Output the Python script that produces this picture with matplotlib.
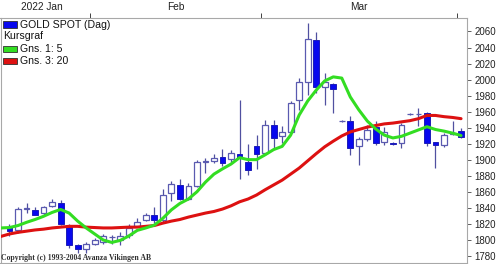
#!/usr/bin/env python3
"""
GOLD SPOT (Dag) - candlestick + glidande medel (5 / 20), jan-mar 2022.
Output: out.png (500x264)
"""
import numpy as np
import matplotlib
matplotlib.use("Agg")
import matplotlib.pyplot as plt
from matplotlib.patches import Rectangle

# dagsdata (index 0 = första stapeln)
opens = [1817, 1813, 1839, 1838, 1834, 1843, 1847, 1819, 1794, 1789,
         1796, 1798.5, 1804, 1800, 1806.5, 1818, 1826, 1832, 1825, 1858.5,
         1869, 1852, 1868, 1897, 1899, 1904, 1901, 1907.5, 1897.5, 1918,
         1909, 1943, 1929.5, 1935, 1975, 1997, 2050, 1991, 1995, 1948,
         1949, 1917.5, 1926, 1941.5, 1922, 1921, 1921.5, 1957, 1957, 1959,
         1922, 1919, 1932, 1936.5]
highs = [1820, 1842, 1846, 1841, 1843, 1852, 1850, 1820.5, 1796, 1798.5,
         1802.5, 1808, 1807, 1810, 1821, 1827.5, 1834.5, 1841, 1863.5, 1874,
         1877, 1871, 1900, 1902, 1907.5, 1913.5, 1912.5, 1975, 1920, 1931,
         1950, 1950, 1942, 1973, 2002, 2070.5, 2059.5, 2008.5, 1996, 1950,
         1954.5, 1929, 1943.5, 1948, 1941.5, 1922, 1946, 1958, 1964.5, 1960,
         1922, 1934, 1949, 1939.5]
lows = [1805, 1809, 1834, 1831, 1832, 1842, 1819, 1790, 1784, 1784,
        1794, 1796, 1796, 1794, 1803, 1817, 1824.5, 1822, 1823, 1849,
        1850, 1850, 1866, 1884, 1896, 1892.5, 1898, 1877, 1882, 1889,
        1906.5, 1914, 1921.5, 1934, 1962.5, 1981.5, 1983.5, 1969, 1958.5, 1947,
        1906, 1894, 1924, 1919, 1919, 1919, 1914.5, 1956, 1942.5, 1917.5,
        1890, 1916, 1931, 1927]
closes = [1812, 1839, 1840, 1832, 1841, 1848, 1820, 1794, 1789, 1795,
          1800, 1805.5, 1804.5, 1806, 1816, 1823, 1832, 1825, 1856.5, 1870,
          1851, 1868, 1897, 1899, 1903, 1896, 1909, 1902, 1888, 1907,
          1944, 1927.5, 1935, 1971, 1997, 2051, 1990.5, 1997, 1988, 1949,
          1915, 1926, 1938, 1921, 1935, 1920, 1943.5, 1957.5, 1957.5, 1921.5,
          1919, 1931, 1934, 1929]

# glidande medel, första värdet hör till dagen före första stapeln (index -1)
ma5 = [1815.5, 1816, 1818.5, 1822.5, 1826, 1830, 1834.8, 1838.5, 1834, 1824, 1815.5,
       1808, 1800.5, 1797.5, 1800, 1805.5, 1812.5, 1815.5, 1819, 1827.5, 1838,
       1846, 1851.5, 1860.5, 1872.5, 1882.5, 1889, 1895, 1903, 1900.5, 1900.5,
       1906.5, 1913, 1917, 1931, 1956, 1973.5, 1987, 1998.5, 2003.5, 2002,
       1978.5, 1962.5, 1948.5, 1938.5, 1931, 1927.5, 1929.5, 1933.5, 1937.5, 1941.5,
       1938, 1936, 1933.5, 1930.5]
ma20 = [1805, 1808, 1810, 1811.5, 1813, 1814, 1815.5, 1816.5, 1817.5, 1817.5, 1816.5,
        1816, 1815.5, 1815.5, 1816, 1816.5, 1816.5, 1817.5, 1818.5, 1821.5, 1824,
        1826, 1829, 1831.5, 1834, 1836, 1839, 1843, 1848, 1851.5, 1856.5,
        1863, 1869, 1875, 1882.5, 1890, 1899, 1908, 1916.5, 1923.5, 1930,
        1935, 1938, 1941, 1943, 1945, 1946, 1947.5, 1949, 1951.5, 1955.5,
        1955.5, 1954, 1953, 1951.5]

# månadsgränser (mellan två handelsdagar) och etiketter
month_edges = [-2, 9.5, 29.5, 52.5]
month_labels = ["2022 Jan", "Feb", "Mar"]
y_ticks = list(range(1780, 2061, 20))

FONT = ["Liberation Sans", "DejaVu Sans"]
WICK = "#5050a0"
HOLLOW_EDGE = "#5a5ab0"
FILL = "#0808ee"
FILL_EDGE = "#1c1cb8"
GREEN = "#33dd22"
RED = "#dd1111"
SPINE = "#a8a8a8"


def main():
    o = np.array(opens)
    h = np.array(highs)
    l = np.array(lows)
    c = np.array(closes)
    x = np.arange(len(c))
    x_ma = np.arange(-1, len(c))

    W, H = 500, 264
    fig = plt.figure(figsize=(W / 100, H / 100), dpi=100)
    # ritytan i pixlar: x 0..466, y 18.3..263.3
    ax = fig.add_axes([0.001, 1 - 263.3 / H, 466 / W, 245 / H])

    up = c >= o
    down = ~up
    # vekar
    ax.vlines(x, l, h, color=WICK, lw=0.9, zorder=2)
    # kroppar
    bw = 0.68
    ax.bar(x[up], (c - o)[up], bottom=o[up], width=bw, color="white",
           edgecolor=HOLLOW_EDGE, lw=0.9, zorder=3)
    ax.bar(x[down], (o - c)[down], bottom=c[down], width=bw, color=FILL,
           edgecolor=FILL_EDGE, lw=0.7, zorder=3)

    ax.plot(x_ma, ma20, color=RED, lw=2.2, zorder=4, solid_capstyle="round")
    ax.plot(x_ma, ma5, color=GREEN, lw=2.2, zorder=5, solid_capstyle="round")

    ax.set_xlim(-1.056, 53.64)
    ax.set_ylim(1771.5, 2076.4)

    # y-axel till höger
    ax.yaxis.tick_right()
    ax.set_yticks(y_ticks)
    ax.tick_params(axis="y", length=3, width=0.7, color="#606060", pad=2.5,
                   labelsize=7, labelcolor="#222222")
    for t in ax.get_yticklabels():
        t.set_family(FONT)

    # x-axel överst: ticks vid månadsgräns, etikett mitt i månaden
    ax.xaxis.tick_top()
    ax.set_xticks(month_edges[1:])
    ax.set_xticklabels([])
    mids = [(a + b) / 2 for a, b in zip(month_edges[:-1], month_edges[1:])]
    ax.set_xticks(mids, minor=True)
    ax.set_xticklabels(month_labels, minor=True)
    ax.tick_params(axis="x", which="major", length=3.5, width=0.7, color="#404040")
    ax.tick_params(axis="x", which="minor", length=0, pad=4.2, labelsize=7.3,
                   labelcolor="#222222")
    for t in ax.get_xticklabels(minor=True):
        t.set_family(FONT)

    for s in ax.spines.values():
        s.set_color(SPINE)
        s.set_linewidth(0.8)

    # legend, handritad i övre vänstra hörnet
    def px_to_ax(px, py):
        return px / 466, (263.3 - py) / 245

    legend_rows = [
        (24.5, FILL, "GOLD SPOT (Dag)"),
        (36.0, None, "Kursgraf"),
        (48.8, GREEN, "Gns. 1: 5"),
        (60.8, RED, "Gns. 3: 20"),
    ]
    for py, col, txt in legend_rows:
        if col is None:
            tx, ty = px_to_ax(2.5, py)
        else:
            rx, ry = px_to_ax(2.7, py + 3.3)
            ax.add_patch(Rectangle((rx, ry), 14 / 466, 6.6 / 245, transform=ax.transAxes,
                                   facecolor=col, edgecolor="#303030", lw=0.6, zorder=6))
            tx, ty = px_to_ax(19, py)
        ax.text(tx, ty, txt, transform=ax.transAxes, fontsize=7.6, family=FONT,
                va="center", ha="left", color="#111111", zorder=6)

    cx, cy = px_to_ax(0.5, 257.5)
    ax.text(cx, cy, "Copyright (c) 1993-2004 Avanza Vikingen AB", transform=ax.transAxes,
            fontsize=5.6, family=["Liberation Serif", "DejaVu Serif"], weight="bold",
            va="center", ha="left", color="#303030", zorder=6)

    fig.savefig("out.png", dpi=100, facecolor="white")
    plt.close(fig)


if __name__ == "__main__":
    main()
